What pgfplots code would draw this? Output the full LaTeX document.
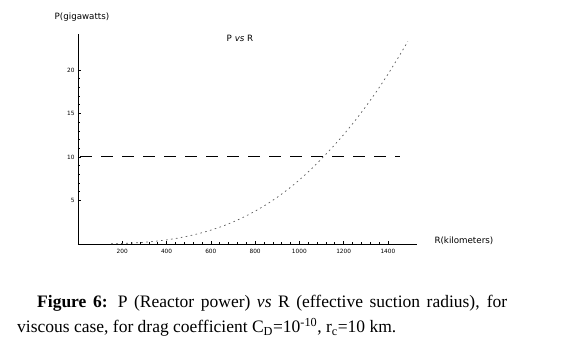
\documentclass[border=0pt]{standalone}
\usepackage{pgfplots}
\pgfplotsset{compat=1.18}
\usepackage{fontspec}
\setmainfont{Liberation Serif}
\newfontfamily\dv{DejaVu Sans}
\begin{document}
\begin{tikzpicture}[x=1pt,y=1pt]
\path[use as bounding box] (0,0) rectangle (579,360);
\begin{axis}[
  at={(78pt,116pt)}, anchor=south west,
  scale only axis, width=338.7pt, height=209.7pt,
  xmin=0, xmax=1530, ymin=0, ymax=24.1,
  axis lines*=left,
  axis line style={line width=0.8pt},
  xtick={200,400,...,1400}, ytick={5,10,15,20},
  minor x tick num=4, minor y tick num=4,
  tick align=inside,
  major tick length=3pt, minor tick length=1.8pt,
  tick style={black, line width=0.6pt},
  tick label style={font=\dv\fontsize{5.8}{6}\selectfont},
  /pgf/number format/assume math mode=true,
  /pgf/number format/1000 sep={},
  xticklabel style={yshift=-2pt},
  clip=false,
]
\addplot[black, line width=1pt, dash pattern=on 12pt off 9pt] coordinates {(10,10) (1455,10)};
\addplot[gray!70!black, line width=0.7pt, dash pattern=on 1.6pt off 3.4pt] coordinates {
(150,0.0248) (200,0.0589) (250,0.115) (300,0.199) (350,0.316) (400,0.471)
(450,0.671) (500,0.920) (550,1.225) (600,1.590) (650,2.022) (700,2.525)
(750,3.106) (800,3.769) (850,4.521) (900,5.366) (950,6.312) (1000,7.361)
(1050,8.522) (1100,9.798) (1150,11.13) (1200,12.57) (1250,14.12) (1300,15.79)
(1350,17.58) (1400,19.50) (1450,21.56) (1490,23.29)};
\end{axis}
\node[font=\dv\fontsize{8.7}{9}\selectfont] at (82,343) {P(gigawatts)};
\node[font=\dv\fontsize{8.7}{9}\selectfont] at (240,322) {P \textit{vs} R};
\node[font=\dv\fontsize{8.7}{9}\selectfont, anchor=west] at (431,119) {R(kilometers)};
\node[anchor=north west, inner sep=0pt, text width=490pt, align=justify, font=\fontsize{17.5}{25}\selectfont] at (17,65) {\hspace*{20pt}\textbf{Figure 6:} P (Reactor power) \textit{vs} R (effective suction radius), for viscous case, for drag coefficient C\textsubscript{D}=10\textsuperscript{-10}, r\textsubscript{c}=10 km.};
\end{tikzpicture}
\end{document}
